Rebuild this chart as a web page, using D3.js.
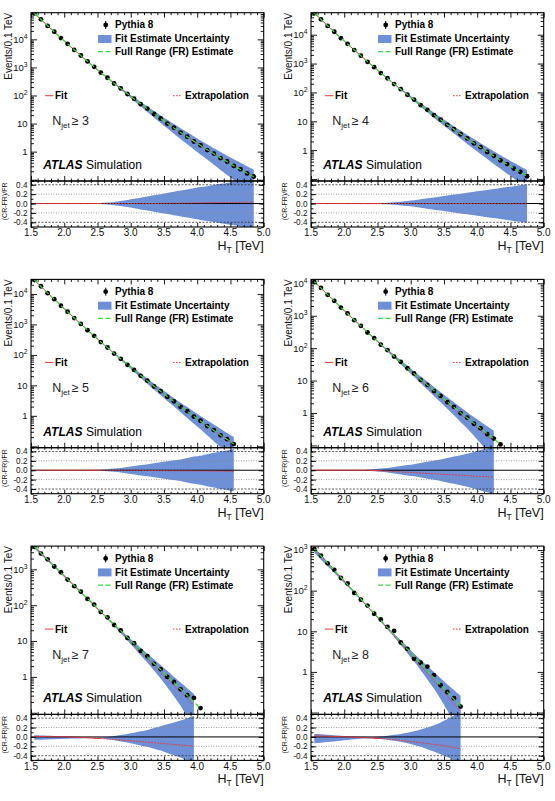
<!DOCTYPE html>
<html>
<head>
<meta charset="utf-8">
<script src="https://cdn.jsdelivr.net/npm/d3@7"></script>
<style>
  body { margin: 0; background: #fff; }
  svg { display: block; font-family: "Liberation Sans", Arial, Helvetica, sans-serif; }
</style>
</head>
<body>
<svg id="chart" width="555" height="801"></svg>
<script>
// HT bin centres (TeV), shared by all panels
const htBins = [1.55, 1.65, 1.75, 1.85, 1.95, 2.05, 2.15, 2.25, 2.35, 2.45, 2.55, 2.65,
  2.75, 2.85, 2.95, 3.05, 3.15, 3.25, 3.35, 3.45, 3.55, 3.65, 3.75, 3.85, 3.95, 4.05,
  4.15, 4.25, 4.35, 4.45, 4.55, 4.65, 4.75, 4.85, 4.95];

const njetLabels = ["3", "4", "5", "6", "7", "8"];
const yMinByPanel = [0.09, 0.085, 0.09, 0.085, 0.09, 0.09];
const yMaxByPanel = [8.9e4, 5.8e4, 3.0e4, 1.32e4, 4450, 1250];
const xTickLabels = ["1.5", "2.0", "2.5", "3.0", "3.5", "4.0", "4.5", "5.0"];
const ratioTickLabels = ["0.4", "0.2", "0.0", "-0.2", "-0.4"];

// Njet >= 3
const pythiaNj3 = [84000, 51500, 30000, 18700, 11100, 6950, 4200, 2660, 1640, 1050, 655, 428, 268, 178, 113, 76.5, 49.2, 33.8, 21.9, 15.3, 10.0, 7.15, 4.75, 3.42, 2.30, 1.69, 1.14, 0.85, 0.59, 0.445, 0.31, 0.238, 0.168, 0.13];
const frNj3 = [85000, 50800, 30500, 18400, 11200, 6880, 4250, 2640, 1650, 1040, 661, 422, 272, 176, 115, 75.4, 49.9, 33.2, 22.3, 15.0, 10.2, 7.01, 4.83, 3.35, 2.34, 1.65, 1.17, 0.834, 0.600, 0.434, 0.316, 0.232, 0.171, 0.127];
const fitDevNj3 = [0, 0, 0, 0, 0, 0, 0, 0, 0, 0, 0, 0, 0, 0, 0, 0, 0, 0, 0, 0.002, 0.004, 0.006, 0.008, 0.01, 0.012, 0.014, 0.016, 0.018, 0.02, 0.022, 0.024, 0.026, 0.028, 0.03];
const uncNj3 = [0.005, 0.004, 0.003, 0.003, 0.002, 0.002, 0.002, 0.003, 0.004, 0.006, 0.01, 0.02, 0.035, 0.055, 0.075, 0.1, 0.125, 0.15, 0.175, 0.2, 0.225, 0.25, 0.275, 0.3, 0.325, 0.35, 0.37, 0.395, 0.42, 0.44, 0.465, 0.49, 0.515, 0.54];

// Njet >= 4
const pythiaNj4 = [55500, 34300, 20200, 12700, 7620, 4820, 2930, 1880, 1150, 752, 468, 310, 194, 130, 83, 56.5, 36.2, 25.0, 16.2, 11.4, 7.5, 5.3, 3.55, 2.55, 1.72, 1.26, 0.86, 0.635, 0.44, 0.328, 0.229, 0.175, 0.124];
const frNj4 = [56200, 33900, 20500, 12500, 7700, 4760, 2970, 1860, 1170, 743, 474, 305, 197, 128, 84.1, 55.5, 36.8, 24.6, 16.5, 11.2, 7.62, 5.22, 3.61, 2.50, 1.75, 1.23, 0.871, 0.621, 0.445, 0.321, 0.233, 0.171, 0.126];
const fitDevNj4 = [0, 0, 0, 0, 0, 0, 0, 0, 0, 0, 0, 0, 0, 0, 0, 0, 0, 0, 0, 0, 0, 0, 0, 0, 0, -0.001, -0.001, -0.002, -0.002, -0.003, -0.003, -0.004, -0.005];
const uncNj4 = [0.003, 0.003, 0.003, 0.003, 0.003, 0.003, 0.003, 0.003, 0.003, 0.004, 0.008, 0.015, 0.025, 0.04, 0.055, 0.07, 0.09, 0.11, 0.13, 0.15, 0.17, 0.19, 0.21, 0.23, 0.25, 0.27, 0.29, 0.31, 0.33, 0.35, 0.37, 0.39, 0.41];

// Njet >= 5
const pythiaNj5 = [28500, 17900, 10600, 6750, 4100, 2620, 1610, 1040, 645, 422, 263, 175, 110, 74.0, 47.3, 32.2, 20.6, 14.2, 9.25, 6.45, 4.22, 3.0, 1.97, 1.42, 0.945, 0.69, 0.46, 0.34, 0.23, 0.172, 0.118];
const frNj5 = [28800, 17600, 10800, 6680, 4150, 2590, 1630, 1030, 652, 416, 267, 173, 112, 73.1, 48.0, 31.7, 21.0, 14.0, 9.41, 6.35, 4.31, 2.94, 2.01, 1.39, 0.964, 0.672, 0.472, 0.332, 0.236, 0.168, 0.120];
const fitDevNj5 = [0, 0, 0, 0, 0, 0, 0, 0, 0, 0, 0, 0, 0, 0, 0, -0.002, -0.003, -0.005, -0.006, -0.008, -0.01, -0.011, -0.013, -0.014, -0.016, -0.017, -0.019, -0.02, -0.022, -0.023, -0.025];
const uncNj5 = [0.003, 0.003, 0.003, 0.003, 0.003, 0.003, 0.003, 0.003, 0.003, 0.006, 0.012, 0.02, 0.035, 0.05, 0.07, 0.09, 0.11, 0.13, 0.15, 0.17, 0.19, 0.21, 0.23, 0.26, 0.29, 0.31, 0.34, 0.37, 0.4, 0.42, 0.45];

// Njet >= 6
const pythiaNj6 = [11000, 7200, 4400, 2880, 1780, 1180, 730, 488, 304, 205, 128, 87.5, 55.0, 37.8, 24.0, 16.6, 10.5, 7.4, 4.75, 3.35, 2.15, 1.55, 0.99, 0.72, 0.465, 0.34, 0.222, 0.163, 0.107];
const frNj6 = [11200, 7070, 4470, 2840, 1810, 1160, 743, 479, 310, 201, 131, 85.6, 56.2, 37.0, 24.5, 16.2, 10.8, 7.23, 4.85, 3.27, 2.21, 1.50, 1.02, 0.697, 0.478, 0.329, 0.228, 0.158, 0.110];
const fitDevNj6 = [0, 0, 0, 0, 0, 0, 0, 0, 0, -0.005, -0.012, -0.02, -0.028, -0.036, -0.044, -0.052, -0.06, -0.068, -0.076, -0.084, -0.092, -0.1, -0.108, -0.116, -0.124, -0.132, -0.14, -0.15];
const uncNj6 = [0.004, 0.004, 0.004, 0.004, 0.004, 0.004, 0.004, 0.004, 0.01, 0.02, 0.035, 0.05, 0.07, 0.09, 0.11, 0.13, 0.155, 0.18, 0.205, 0.23, 0.26, 0.29, 0.32, 0.35, 0.39, 0.43, 0.47, 0.52];

// Njet >= 7
const pythiaNj7 = [4270, 2750, 1900, 1200, 830, 520, 340, 240, 150, 104, 65, 46, 28, 19.8, 12.2, 8.7, 5.3, 3.8, 2.3, 1.65, 1.0, 0.72, 0.45, 0.31, 0.26, 0.135];
const frNj7 = [4270, 2820, 1860, 1230, 810, 535, 353, 233, 154, 101, 67.0, 44.2, 29.2, 19.3, 12.7, 8.40, 5.54, 3.66, 2.41, 1.59, 1.05, 0.694, 0.458, 0.303, 0.200, 0.132];
const fitDevNj7 = [0.01, 0.01, 0.008, 0.005, 0.002, 0, -0.005, -0.01, -0.018, -0.026, -0.035, -0.045, -0.055, -0.066, -0.077, -0.088, -0.1, -0.112, -0.124, -0.136, -0.148, -0.16, -0.172, -0.185, -0.2];
const bandHiNj7 = [0.035, 0.03, 0.025, 0.02, 0.015, 0.01, 0.005, 0, -0.005, -0.01, -0.01, 0, 0.02, 0.04, 0.065, 0.09, 0.12, 0.15, 0.19, 0.23, 0.27, 0.31, 0.35, 0.4, 0.45];
const bandLoNj7 = [-0.065, -0.06, -0.055, -0.05, -0.045, -0.04, -0.035, -0.032, -0.03, -0.03, -0.035, -0.05, -0.07, -0.095, -0.12, -0.15, -0.18, -0.21, -0.25, -0.29, -0.34, -0.39, -0.44, -0.5, -0.56];

// Njet >= 8
const pythiaNj8 = [1070, 730, 470, 325, 205, 150, 88, 60, 43, 27, 19.5, 12.8, 10.2, 5.3, 3.7, 2.1, 1.68, 1.35, 0.83, 0.47, 0.32, 0.225, 0.14];
const frNj8 = [1070, 714, 476, 317, 211, 141, 93.7, 62.4, 41.6, 27.7, 18.5, 12.3, 8.19, 5.46, 3.63, 2.42, 1.61, 1.07, 0.716, 0.477, 0.318, 0.212, 0.141];
const fitDevNj8 = [0.02, 0.018, 0.015, 0.01, 0.005, 0, -0.006, -0.012, -0.018, -0.025, -0.035, -0.047, -0.06, -0.075, -0.09, -0.105, -0.12, -0.14, -0.16, -0.18, -0.2, -0.225, -0.25];
const bandHiNj8 = [0.06, 0.055, 0.045, 0.035, 0.025, 0.015, 0.008, 0.003, 0, 0, 0.01, 0.025, 0.045, 0.065, 0.09, 0.12, 0.16, 0.2, 0.25, 0.31, 0.38, 0.46, 0.55];
const bandLoNj8 = [-0.135, -0.125, -0.11, -0.095, -0.08, -0.065, -0.05, -0.04, -0.035, -0.035, -0.045, -0.06, -0.08, -0.105, -0.135, -0.17, -0.21, -0.26, -0.31, -0.37, -0.43, -0.5, -0.58];

const panels = [
  { pythia: pythiaNj3, fr: frNj3, dev: fitDevNj3, hi: uncNj3, lo: uncNj3.map(v => -v) },
  { pythia: pythiaNj4, fr: frNj4, dev: fitDevNj4, hi: uncNj4, lo: uncNj4.map(v => -v) },
  { pythia: pythiaNj5, fr: frNj5, dev: fitDevNj5, hi: uncNj5, lo: uncNj5.map(v => -v) },
  { pythia: pythiaNj6, fr: frNj6, dev: fitDevNj6, hi: uncNj6, lo: uncNj6.map(v => -v) },
  { pythia: pythiaNj7, fr: frNj7, dev: fitDevNj7, hi: bandHiNj7, lo: bandLoNj7 },
  { pythia: pythiaNj8, fr: frNj8, dev: fitDevNj8, hi: bandHiNj8, lo: bandLoNj8 }
];

// Layout
const colX = [31, 311],
  rowY = [12.7, 279.4, 546.1],
  plotW = 232.7,
  mainH = 168.3,
  ratioH = 46,
  htRange = [1.5, 5.0],
  ratioRange = [-0.5, 0.48],
  fitEnd = 2.5,
  mainBandScale = 1.5; // band in the upper pad is wider than the ratio band

const bandColor = "#6e90d6",
  fitColor = "#e8393a",
  frColor = "#3fd63f";

const svg = d3.select("#chart");

function tickAxis(g, axis) {
  g.call(axis);
  g.select(".domain").remove();
  g.selectAll(".tick line").attr("stroke", "#000").attr("stroke-width", 0.9);
}

function drawPanel(p, i) {
  const col = i % 2,
    row = Math.floor(i / 2);
  const g = svg.append("g").attr("transform", "translate(" + colX[col] + "," + rowY[row] + ")");

  const x = d3.scaleLinear().domain(htRange).range([0, plotW]);
  const y = d3.scaleLog().domain([yMinByPanel[i], yMaxByPanel[i]]).range([mainH, 0]);
  const yr = d3.scaleLinear().domain(ratioRange).range([mainH + ratioH, mainH]);

  const defs = g.append("defs");
  defs.append("clipPath").attr("id", "cm" + i)
    .append("rect").attr("width", plotW).attr("height", mainH);
  defs.append("clipPath").attr("id", "cr" + i)
    .append("rect").attr("y", mainH).attr("width", plotW).attr("height", ratioH);

  const nBand = p.hi.length;
  const band = d3.range(nBand).map(k => ({
    ht: htBins[k],
    lo: Math.max(p.fr[k] * (1 + mainBandScale * p.lo[k]), yMinByPanel[i] / 10),
    hi: p.fr[k] * (1 + mainBandScale * p.hi[k]),
    rlo: p.lo[k],
    rhi: p.hi[k],
    dev: p.dev[k],
    fit: p.fr[k] * (1 + p.dev[k])
  }));
  const points = p.pythia.map((v, k) => ({ ht: htBins[k], v: v, fr: p.fr[k] }));

  // ---- upper pad
  const main = g.append("g").attr("clip-path", "url(#cm" + i + ")");

  main.append("path")
    .datum(band)
    .attr("fill", bandColor)
    .attr("d", d3.area().x(d => x(d.ht)).y0(d => y(d.lo)).y1(d => y(d.hi)).curve(d3.curveMonotoneX));

  const fitLine = d3.line().x(d => x(d.ht)).y(d => y(d.fit)).curve(d3.curveMonotoneX);
  main.append("path")
    .datum(band.filter(d => d.ht <= fitEnd + 0.06))
    .attr("fill", "none").attr("stroke", fitColor).attr("stroke-width", 1)
    .attr("d", fitLine);
  main.append("path")
    .datum(band.filter(d => d.ht >= fitEnd - 0.06))
    .attr("fill", "none").attr("stroke", fitColor).attr("stroke-width", 1)
    .attr("stroke-dasharray", "1.5,1.5")
    .attr("d", fitLine);

  main.selectAll("circle.pt")
    .data(points)
    .join("circle")
    .attr("class", "pt")
    .attr("cx", d => x(d.ht))
    .attr("cy", d => y(d.v))
    .attr("r", 2.4)
    .attr("fill", "#000");

  main.append("path")
    .datum(points)
    .attr("fill", "none").attr("stroke", frColor).attr("stroke-width", 1.2)
    .attr("stroke-dasharray", "5,2.5")
    .attr("d", d3.line().x(d => x(d.ht)).y(d => y(d.fr)).curve(d3.curveMonotoneX));

  // ---- ratio pad
  const rat = g.append("g").attr("clip-path", "url(#cr" + i + ")");

  rat.append("path")
    .datum(band)
    .attr("fill", bandColor)
    .attr("d", d3.area().x(d => x(d.ht)).y0(d => yr(d.rlo)).y1(d => yr(d.rhi)).curve(d3.curveMonotoneX));

  rat.selectAll("line.grid")
    .data(yr.ticks(5).filter(v => Math.abs(v) > 1e-9))
    .join("line")
    .attr("class", "grid")
    .attr("x1", 0).attr("x2", plotW)
    .attr("y1", d => yr(d)).attr("y2", d => yr(d))
    .attr("stroke", d => Math.abs(d) > 0.3 ? "#333" : "#888")
    .attr("stroke-width", 0.8)
    .attr("stroke-dasharray", d => Math.abs(d) > 0.3 ? "2,1.5" : "1,1.5");

  rat.append("line")
    .attr("x1", 0).attr("x2", plotW)
    .attr("y1", yr(0)).attr("y2", yr(0))
    .attr("stroke", "#000").attr("stroke-width", 1);

  const devLine = d3.line().x(d => x(d.ht)).y(d => yr(d.dev)).curve(d3.curveMonotoneX);
  rat.append("path")
    .datum(band.filter(d => d.ht <= fitEnd + 0.06))
    .attr("fill", "none").attr("stroke", fitColor).attr("stroke-width", 0.9)
    .attr("d", devLine);
  rat.append("path")
    .datum(band.filter(d => d.ht >= fitEnd - 0.06))
    .attr("fill", "none").attr("stroke", fitColor).attr("stroke-width", 0.9)
    .attr("stroke-dasharray", "2,1")
    .attr("d", devLine);

  // ---- ticks
  const xMaj = x.ticks(7), xMin = x.ticks(35).filter(v => !xMaj.some(m => Math.abs(m - v) < 1e-9));
  [[mainH, d3.axisBottom], [0, d3.axisTop], [mainH + ratioH, d3.axisBottom], [mainH, d3.axisTop]].forEach(([yy, ax], j) => {
    const long = j < 2 ? 5 : 4, short = j < 2 ? 2.5 : 2;
    tickAxis(g.append("g").attr("transform", "translate(0," + yy + ")"), ax(x).tickValues(xMaj).tickSize(-long).tickFormat(""));
    tickAxis(g.append("g").attr("transform", "translate(0," + yy + ")"), ax(x).tickValues(xMin).tickSize(-short).tickFormat(""));
  });

  const yTicks = y.ticks();
  const yMaj = yTicks.filter(v => Math.abs(Math.log10(v) - Math.round(Math.log10(v))) < 1e-6);
  const yMin = yTicks.filter(v => !yMaj.includes(v));
  [[0, d3.axisLeft], [plotW, d3.axisRight]].forEach(([xx, ax]) => {
    tickAxis(g.append("g").attr("transform", "translate(" + xx + ",0)"), ax(y).tickValues(yMaj).tickSize(-6).tickFormat(""));
    tickAxis(g.append("g").attr("transform", "translate(" + xx + ",0)"), ax(y).tickValues(yMin).tickSize(-3).tickFormat(""));
    tickAxis(g.append("g").attr("transform", "translate(" + xx + ",0)"), ax(yr).tickValues(yr.ticks(5)).tickSize(-5).tickFormat(""));
    tickAxis(g.append("g").attr("transform", "translate(" + xx + ",0)"), ax(yr).tickValues(yr.ticks(10)).tickSize(-2.5).tickFormat(""));
  });

  // ---- frames
  g.append("rect").attr("width", plotW).attr("height", mainH)
    .attr("fill", "none").attr("stroke", "#000").attr("stroke-width", 1.1);
  g.append("rect").attr("y", mainH).attr("width", plotW).attr("height", ratioH)
    .attr("fill", "none").attr("stroke", "#000").attr("stroke-width", 1.1);

  // ---- tick labels (only 1 and above on the log axis)
  const yl = g.selectAll("text.ylab")
    .data(yMaj.filter(v => v >= 1))
    .join("text")
    .attr("class", "ylab")
    .attr("x", -3.5)
    .attr("y", d => y(d) + 3.4)
    .attr("text-anchor", "end")
    .attr("font-size", 9.5)
    .attr("fill", "#111");
  yl.each(function(d) {
    const k = Math.round(Math.log10(d));
    const t = d3.select(this);
    if (k === 0) t.text("1");
    else if (k === 1) t.text("10");
    else {
      t.text("10");
      t.append("tspan").attr("dy", -4).attr("font-size", 6.8).text(k);
    }
  });

  g.selectAll("text.rlab")
    .data(yr.ticks(5).reverse())
    .join("text")
    .attr("class", "rlab")
    .attr("x", -3.5)
    .attr("y", d => yr(d) + 3)
    .attr("text-anchor", "end")
    .attr("font-size", 8.2)
    .attr("fill", "#111")
    .text((d, k) => ratioTickLabels[k]);

  g.selectAll("text.xlab")
    .data(xMaj)
    .join("text")
    .attr("class", "xlab")
    .attr("x", d => x(d))
    .attr("y", mainH + ratioH + 9.5)
    .attr("text-anchor", "middle")
    .attr("font-size", 10)
    .attr("fill", "#111")
    .text((d, k) => xTickLabels[k]);

  // axis titles
  const xt = g.append("text")
    .attr("x", plotW).attr("y", mainH + ratioH + 23)
    .attr("text-anchor", "end")
    .attr("font-size", 12.5)
    .attr("fill", "#111")
    .text("H");
  xt.append("tspan").attr("dy", 3).attr("font-size", 8.5).text("T");
  xt.append("tspan").attr("dy", -3).text(" [TeV]");

  g.append("text")
    .attr("transform", "translate(-19.5,0) rotate(-90)")
    .attr("text-anchor", "end")
    .attr("font-size", 10)
    .attr("fill", "#111")
    .text("Events/0.1 TeV");

  g.append("text")
    .attr("transform", "translate(-24.5," + (mainH + 1.5) + ") rotate(-90)")
    .attr("text-anchor", "end")
    .attr("font-size", 7)
    .attr("fill", "#111")
    .text("(CR-FR)/FR");

  // ---- legend
  const leg = g.append("g").attr("font-size", 10).attr("font-weight", "bold").attr("fill", "#000");
  leg.append("line").attr("x1", 74.7).attr("x2", 74.7).attr("y1", 8.3).attr("y2", 16.3)
    .attr("stroke", "#000").attr("stroke-width", 1);
  leg.append("circle").attr("cx", 74.7).attr("cy", 12.3).attr("r", 2.4).attr("fill", "#000");
  leg.append("text").attr("x", 84).attr("y", 15.8).text("Pythia 8");
  leg.append("rect").attr("x", 67).attr("y", 22.3).attr("width", 13.5).attr("height", 8).attr("fill", bandColor);
  leg.append("text").attr("x", 84).attr("y", 29.6).text("Fit Estimate Uncertainty");
  leg.append("line").attr("x1", 67).attr("x2", 80.5).attr("y1", 39).attr("y2", 39)
    .attr("stroke", frColor).attr("stroke-width", 1.2).attr("stroke-dasharray", "5,2.5");
  leg.append("text").attr("x", 84).attr("y", 42.5).text("Full Range (FR) Estimate");

  leg.append("line").attr("x1", 14).attr("x2", 22.3).attr("y1", 83).attr("y2", 83)
    .attr("stroke", fitColor).attr("stroke-width", 1);
  leg.append("text").attr("x", 24).attr("y", 86.6).text("Fit");
  leg.append("line").attr("x1", 142).attr("x2", 151).attr("y1", 83).attr("y2", 83)
    .attr("stroke", fitColor).attr("stroke-width", 1).attr("stroke-dasharray", "1.5,1.5");
  leg.append("text").attr("x", 154).attr("y", 86.6).text("Extrapolation");

  // Njet label
  const nl = g.append("text").attr("x", 21.3).attr("y", 112.5).attr("font-size", 12.5).attr("fill", "#222").text("N");
  nl.append("tspan").attr("dy", 3).attr("font-size", 8).text("jet");
  nl.append("tspan").attr("dy", -3).attr("dx", 2).text("\u2265 " + njetLabels[i]);

  // ATLAS label
  const at = g.append("text").attr("x", 12.3).attr("y", 156.3).attr("font-size", 12).attr("fill", "#000");
  at.append("tspan").attr("font-weight", "bold").attr("font-style", "italic").text("ATLAS");
  at.append("tspan").attr("dx", 3.5).text("Simulation");
}

panels.forEach(drawPanel);
</script>
</body>
</html>
